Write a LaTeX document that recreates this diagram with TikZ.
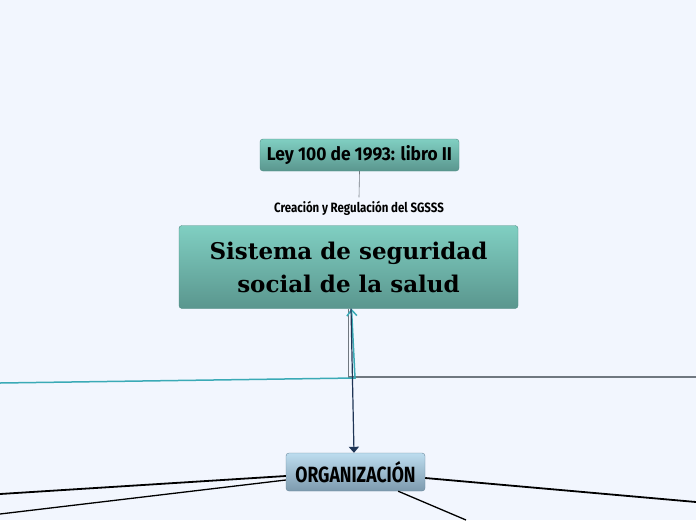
\documentclass[tikz,border=0pt]{standalone}
\usepackage{fontspec}
\setmainfont{DejaVu Serif}
\newfontfamily\leyfont[FakeStretch=0.94]{Fira Sans}
\newfontfamily\labfont[FakeStretch=0.85]{Fira Sans}
\newfontfamily\orgfont[FakeStretch=0.8]{Fira Sans}
\usetikzlibrary{positioning,arrows.meta}
\definecolor{bgcol}{HTML}{F2F6FE}
\definecolor{tealtop}{HTML}{80CFC2}
\definecolor{tealbot}{HTML}{5A968E}
\definecolor{tealedge}{HTML}{4E8C84}
\definecolor{orgtop}{HTML}{BDDDEF}
\definecolor{orgbot}{HTML}{7D9AAE}
\definecolor{orgedge}{HTML}{6A889C}
\definecolor{tealline}{HTML}{3AAAB6}
\definecolor{grayline}{HTML}{707880}
\definecolor{navyline}{HTML}{1F3556}
\tikzset{
  tealbox/.style={draw=tealedge,rounded corners=3pt,top color=tealtop,bottom color=tealbot,text=black,align=center,inner sep=0pt},
  orgbox/.style={draw=orgedge,rounded corners=3pt,top color=orgtop,bottom color=orgbot,text=black,inner sep=0pt},
  branch/.style={line width=1.8pt,black}
}
\begin{document}
\begin{tikzpicture}[x=1pt,y=-1pt]
\fill[bgcol](0,0)rectangle(696,520);
\useasboundingbox(0,0)rectangle(696,520);
% boxes
\node[tealbox,minimum width=199pt,minimum height=32pt,font=\leyfont\bfseries\fontsize{18.5}{20}\selectfont](ley)at(359.5,155){Ley 100 de 1993: libro II};
\node[font=\labfont\bfseries\fontsize{13.5}{15}\selectfont](lab)at(359,208){Creación y Regulación del SGSSS};
\node[tealbox,minimum width=339pt,minimum height=83pt,font=\bfseries\fontsize{23}{33}\selectfont](main)at(348.5,267){Sistema de seguridad\\ social de la salud};
\node[orgbox,minimum width=139pt,minimum height=38pt,font=\orgfont\bfseries\fontsize{22}{24}\selectfont](org)at(355.5,472){ORGANIZACIÓN};
% free ends
\coordinate(tl)at(0,383);
\coordinate(tc)at(355,378);
\coordinate(gr)at(696,377);
\coordinate(l1)at(0,494);
\coordinate(l2)at(0,514);
\coordinate(r1)at(696,502);
\coordinate(b1)at(466,520);
% connectors
\draw[grayline,line width=0.6pt](ley.south)--(lab.north);
\draw[grayline,line width=1.5pt]([xshift=0pt]main.south)|-(gr);
\draw[tealline,line width=1.5pt,-{Straight Barb[length=6pt,width=10pt]}](tl)--(tc)--([xshift=3pt]main.south);
\draw[navyline,line width=1.2pt,-{Triangle[length=6pt,width=10pt]}]([xshift=2.5pt]main.south)--([xshift=-1.5pt]org.north);
\draw[branch]([yshift=-4pt]org.west)--(l1);
\draw[branch,line width=1.3pt]([yshift=-8pt]org.west)--(l2);
\draw[branch]([yshift=-6pt]org.east)--(r1);
\draw[branch,line width=1.3pt]([xshift=-27pt]org.south east)--(b1);
\end{tikzpicture}
\end{document}
